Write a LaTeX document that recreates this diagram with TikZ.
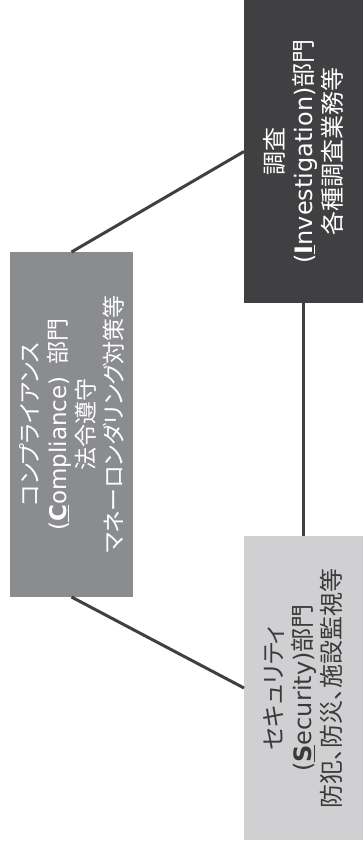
\documentclass[tikz,border=0pt]{standalone}
\usepackage{fontspec}
\setmainfont{Noto Sans CJK JP}[RawFeature=+palt]
\newfontfamily\lat{DejaVu Sans}
\definecolor{darkc}{RGB}{64,64,66}
\definecolor{compc}{RGB}{139,140,143}
\definecolor{lightc}{RGB}{208,208,210}
\definecolor{linec}{RGB}{64,64,64}
\definecolor{ltext}{RGB}{58,58,58}
\begin{document}
\begin{tikzpicture}[x=1pt,y=1pt,
  box/.style={rectangle, draw=none, inner sep=0pt, outer sep=0pt},
  link/.style={draw=linec, line width=3pt}]
\useasboundingbox (0,0) rectangle (363,-852);
\node[box, fill=darkc, text=white, minimum width=119pt, minimum height=303pt] (inv) at (303.5,-151.5)
  {\rotatebox{90}{\parbox{300pt}{\centering\fontsize{24}{29}\selectfont
   調査\\{\lat(\underline{\textbf{I}}nvestigation)}部門\\各種調査業務等}}};
\node[box, fill=compc, text=white, minimum width=123pt, minimum height=345pt] (comp) at (71.5,-424.5)
  {\rotatebox{90}{\parbox{340pt}{\centering\fontsize{23}{28}\selectfont
   コンプライアンス\\{\lat(\underline{\textbf{C}}ompliance)}\hspace{12pt}部門\\法令遵守\\マネーロンダリング対策等}}};
\node[box, fill=lightc, text=ltext, minimum width=119pt, minimum height=304pt] (sec) at (303.5,-688)
  {\rotatebox{90}{\parbox{300pt}{\centering\fontsize{24}{29}\selectfont
   セキュリティ\\{\lat(\underline{\textbf{S}}ecurity)}部門\\防犯、防災、施設監視等}}};
\draw[link] (comp.north) -- (inv.west);
\draw[link] (inv.south) -- (sec.north);
\draw[link] (comp.south) -- (sec.west);
\end{tikzpicture}
\end{document}
